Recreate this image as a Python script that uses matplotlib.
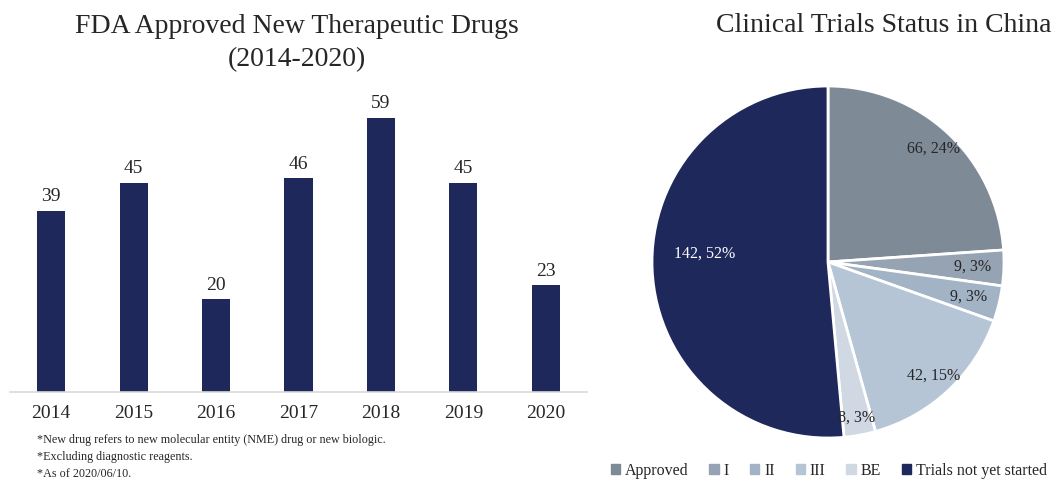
import math
import matplotlib.pyplot as plt
from matplotlib.patches import Patch

years = ["2014", "2015", "2016", "2017", "2018", "2019", "2020"]
approved = [39, 45, 20, 46, 59, 45, 23]

status = ["Approved", "I", "II", "III", "BE", "Trials not yet started"]
counts = [66, 9, 9, 42, 8, 142]
shares = [24, 3, 3, 15, 3, 52]

notes = ["*New drug refers to new molecular entity (NME) drug or new biologic.",
         "*Excluding diagnostic reagents.",
         "*As of 2020/06/10."]

navy = '#1f285a'
pie_colors = ['#7f8a97', '#95a3b3', '#a3b3c6', '#b6c5d6', '#cfd8e3', navy]
txt = '#262626'

plt.rcParams['font.family'] = ['Liberation Serif', 'DejaVu Serif']

W, H = 1054, 480
fig = plt.figure(figsize=(W / 100, H / 100), dpi=100)

# bar chart
ax = fig.add_axes([10 / W, (H - 392) / H, 577 / W, 302 / H])
x = range(len(years))
ax.bar(x, approved, width=0.34, color=navy)
for i, v in enumerate(approved):
    ax.text(i, v + 1.2, str(v), ha='center', va='bottom', fontsize=14, color=txt)
ax.set_xlim(-0.5, len(years) - 0.5)
ax.set_ylim(0, 65)
ax.set_xticks(list(x))
ax.set_xticklabels(years, fontsize=14, color=txt)
ax.tick_params(axis='x', length=0, pad=9)
ax.set_yticks([])
for s in ['top', 'right', 'left']:
    ax.spines[s].set_visible(False)
ax.spines['bottom'].set_color('#d9d9d9')
ax.spines['bottom'].set_linewidth(1.2)
fig.text(297 / W, 1 - 43 / H, "FDA Approved New Therapeutic Drugs\n(2014-2020)",
         ha='center', va='center', fontsize=20, color=txt, linespacing=1.38)

for k, n in enumerate(notes):
    fig.text(37 / W, 1 - (440 + 17 * k) / H, n, ha='left', va='center',
             fontsize=8.7, color=txt)

# pie chart
pax = fig.add_axes([652 / W, (H - 438) / H, 352 / W, 352 / H])
labels = [f"{c}, {p}%" for c, p in zip(counts, shares)]
wedges, texts = pax.pie(counts, colors=pie_colors, startangle=90, counterclock=False,
                        labels=labels, labeldistance=0.8,
                        wedgeprops=dict(edgecolor='white', linewidth=2))
dists = [0.88, 0.82, 0.82, 0.88, 0.9, 0.7]
for w, t, d in zip(wedges, texts, dists):
    ang = math.radians((w.theta1 + w.theta2) / 2)
    t.set_position((d * math.cos(ang), d * math.sin(ang) + (0.08 if t is texts[-1] else 0)))
    t.set_ha('center')
    t.set_va('center')
    t.set_fontsize(11.5)
    t.set_color(txt)
texts[-1].set_color('white')
pax.set_xlim(-1, 1)
pax.set_ylim(-1, 1)
pax.set_aspect('equal')

fig.text(884 / W, 1 - 25 / H, "Clinical Trials Status in China",
         ha='center', va='center', fontsize=20, color=txt)

handles = [Patch(color=c) for c in pie_colors]
fig.legend(handles, status, loc='center', bbox_to_anchor=(829 / W, 1 - 471 / H),
           ncol=6, frameon=False, fontsize=11.5, handlelength=0.6, handleheight=0.6,
           handletextpad=0.3, columnspacing=1.3, labelcolor=txt)

fig.savefig('out.png', dpi=100)
